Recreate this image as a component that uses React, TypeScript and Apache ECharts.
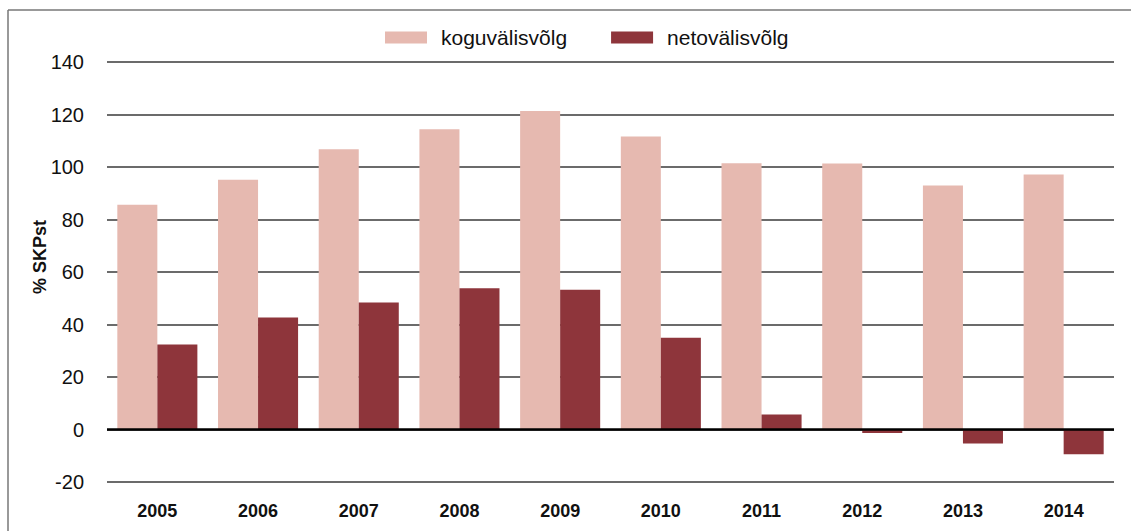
import React, { useEffect, useRef } from "react";
import * as echarts from "echarts";

const years = ["2005", "2006", "2007", "2008", "2009", "2010", "2011", "2012", "2013", "2014"];
const koguValisvolg = [85.6, 95.1, 106.8, 114.4, 121.3, 111.6, 101.4, 101.3, 93.0, 97.1];
const netoValisvolg = [32.4, 42.7, 48.4, 53.8, 53.2, 35.0, 5.7, -1.3, -5.3, -9.4];
const seriesNames = ["koguvälisvõlg", "netovälisvõlg"];
const yAxisTitle = "% SKPst";

const FONT = "'Liberation Sans', Arial, Helvetica, sans-serif";

export default function App() {
  const ref = useRef<HTMLDivElement>(null);
  useEffect(() => {
    if (!ref.current) return;
    const chart = echarts.init(ref.current, undefined, { renderer: "svg" });
    chart.setOption({
      animation: false,
      backgroundColor: "#ffffff",
      textStyle: { fontFamily: FONT },
      legend: {
        left: 385,
        top: 27,
        padding: 0,
        itemWidth: 42,
        itemHeight: 12,
        itemGap: 44,
        icon: "rect",
        textStyle: { fontSize: 21, color: "#111", fontFamily: FONT, padding: [0, 0, 0, 9] },
        data: seriesNames,
      },
      grid: { left: 107, right: 17, top: 62, bottom: 49, containLabel: false },
      xAxis: {
        type: "category",
        data: years,
        axisLine: { show: false },
        axisTick: { show: false },
        axisLabel: { fontSize: 18, fontWeight: "bold", color: "#111", margin: 20, fontFamily: FONT },
      },
      yAxis: {
        type: "value",
        min: -20,
        max: 140,
        interval: 20,
        axisLine: { show: false },
        axisTick: { show: false },
        axisLabel: { fontSize: 20, color: "#111", margin: 23, fontFamily: FONT },
        splitLine: { lineStyle: { color: "#3a3a3a", width: 1.5 } },
      },
      series: [
        {
          name: seriesNames[0],
          type: "bar",
          data: koguValisvolg,
          barGap: "0%",
          barCategoryGap: "20.5%",
          itemStyle: { color: "#E6B9B0" },
          markLine: {
            silent: true,
            symbol: "none",
            label: { show: false },
            lineStyle: { color: "#000", width: 2.5, type: "solid" },
            data: [{ yAxis: 0 }],
          },
        },
        {
          name: seriesNames[1],
          type: "bar",
          data: netoValisvolg,
          barGap: "0%",
          barCategoryGap: "20.5%",
          itemStyle: { color: "#8E353B" },
        },
      ],
      graphic: [
        { type: "line", shape: { x1: 8, y1: 10, x2: 1131, y2: 10 }, style: { stroke: "#777", lineWidth: 1.5 } },
        { type: "line", shape: { x1: 8, y1: 10, x2: 8, y2: 531 }, style: { stroke: "#777", lineWidth: 1.5 } },
        {
          type: "text",
          x: 40,
          y: 257,
          rotation: Math.PI / 2,
          style: {
            text: yAxisTitle,
            fontSize: 18,
            fontWeight: "bold",
            fill: "#111",
            fontFamily: FONT,
            align: "center",
            verticalAlign: "middle",
          },
        },
      ],
    });
    return () => chart.dispose();
  }, []);
  return (
    <div
      ref={ref}
      style={{ position: "fixed", left: 0, top: 0, width: 1131, height: 531 }}
    />
  );
}
